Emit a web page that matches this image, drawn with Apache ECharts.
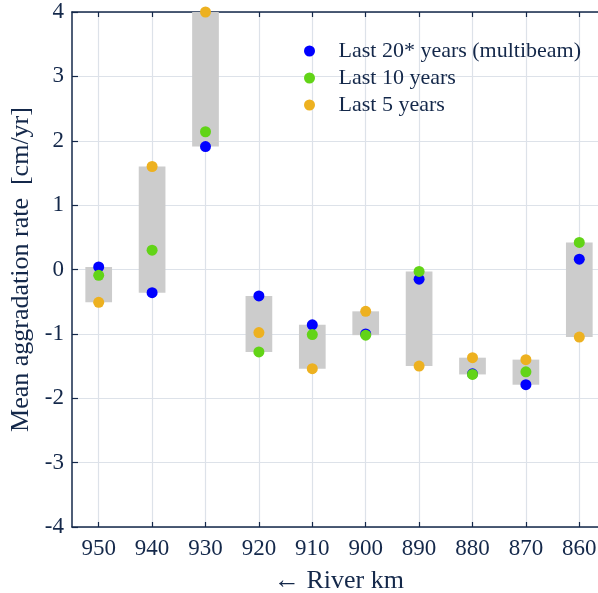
<!DOCTYPE html>
<html>
<head>
<meta charset="utf-8">
<script src="https://cdn.jsdelivr.net/npm/echarts@6/dist/echarts.min.js"></script>
<style>
  html, body { margin: 0; padding: 0; background: #fff; }
  #chart { width: 598px; height: 593px; }
</style>
</head>
<body>
<div id="chart"></div>
<script>
// River km stations (downstream to the right)
const riverKm = ['950', '940', '930', '920', '910', '900', '890', '880', '870', '860'];

// Mean aggradation rate [cm/yr] per period
const last20Multibeam = [0.04, -0.36, 1.91, -0.41, -0.86, -1.00, -0.15, -1.62, -1.79, 0.16];
const last10Years     = [-0.09, 0.30, 2.14, -1.28, -1.01, -1.02, -0.03, -1.63, -1.59, 0.42];
const last5Years      = [-0.51, 1.60, 4.00, -0.98, -1.54, -0.65, -1.50, -1.37, -1.40, -1.05];

const yTicks = { min: -4, max: 4, step: 1 };

const ink = '#14284a';
const gridColor = '#dde2e9';
const fontFamily = '"Liberation Serif", "Times New Roman", serif';
const fontSize = 22;
const tickSize = 23;
const nameSize = 26;

// spread between the three periods at each station
const spread = riverKm.map((_, i) => {
  const v = [last20Multibeam[i], last10Years[i], last5Years[i]];
  return [i, Math.min(...v), Math.max(...v)];
});

const chart = echarts.init(document.getElementById('chart'), null, { renderer: 'canvas' });

const dotSeries = (name, data, color) => ({
  name,
  type: 'scatter',
  data,
  symbol: 'circle',
  symbolSize: 11,
  itemStyle: { color, opacity: 1 },
  z: 3
});

chart.setOption({
  animation: false,
  textStyle: { fontFamily },
  grid: { left: 72, right: -8, top: 12, bottom: 66, containLabel: false, outerBoundsMode: 'none' },
  legend: {
    left: 304,
    top: 40,
    padding: 0,
    orient: 'vertical',
    icon: 'circle',
    itemWidth: 48,
    itemHeight: 11,
    itemGap: 5,
    textStyle: { fontFamily, fontSize, color: ink, lineHeight: 22, padding: 0 },
    data: ['Last 20* years (multibeam)', 'Last 10 years', 'Last 5 years']
  },
  xAxis: [
    {
      type: 'category',
      data: riverKm,
      boundaryGap: true,
      name: '\u2190 River km',
      nameLocation: 'middle',
      nameGap: 41,
      nameTextStyle: { fontFamily, fontSize: nameSize, color: ink },
      axisLine: { show: true, onZero: false, lineStyle: { color: ink, width: 1.5 } },
      axisTick: { show: true, inside: true, alignWithLabel: true, length: 5, lineStyle: { color: ink, width: 1.2 } },
      axisLabel: { fontFamily, fontSize: tickSize, color: ink, margin: 10 },
      splitLine: { show: true, alignWithLabel: true, lineStyle: { color: gridColor, width: 1.2 } }
    },
    {
      type: 'category',
      data: riverKm,
      position: 'top',
      boundaryGap: true,
      axisLine: { show: true, onZero: false, lineStyle: { color: ink, width: 1.5 } },
      axisTick: { show: true, inside: true, alignWithLabel: true, length: 5, lineStyle: { color: ink, width: 1.2 } },
      axisLabel: { show: false },
      splitLine: { show: false }
    }
  ],
  yAxis: {
    type: 'value',
    min: yTicks.min,
    max: yTicks.max,
    interval: yTicks.step,
    name: 'Mean aggradation rate  [cm/yr]',
    nameLocation: 'middle',
    nameGap: 35,
    nameTextStyle: { fontFamily, fontSize: nameSize, color: ink },
    axisLine: { show: true, lineStyle: { color: ink, width: 1.5 } },
    axisTick: { show: true, inside: true, length: 6, lineStyle: { color: ink, width: 1.2 } },
    axisLabel: { fontFamily, fontSize: tickSize, color: ink, margin: 8 },
    splitLine: { show: true, lineStyle: { color: gridColor, width: 1.2 } }
  },
  series: [
    {
      name: 'spread',
      type: 'custom',
      data: spread,
      encode: { x: 0, y: [1, 2] },
      z: 2,
      renderItem: (params, api) => {
        const idx = api.value(0);
        const low = api.coord([idx, api.value(1)]);
        const high = api.coord([idx, api.value(2)]);
        const w = api.size([1, 0])[0] * 0.5;
        return {
          type: 'rect',
          shape: { x: low[0] - w / 2, y: high[1], width: w, height: low[1] - high[1] },
          style: { fill: '#cccccc' }
        };
      }
    },
    dotSeries('Last 20* years (multibeam)', last20Multibeam, '#0000ff'),
    dotSeries('Last 10 years', last10Years, '#62d417'),
    dotSeries('Last 5 years', last5Years, '#edb120')
  ]
});
</script>
</body>
</html>
